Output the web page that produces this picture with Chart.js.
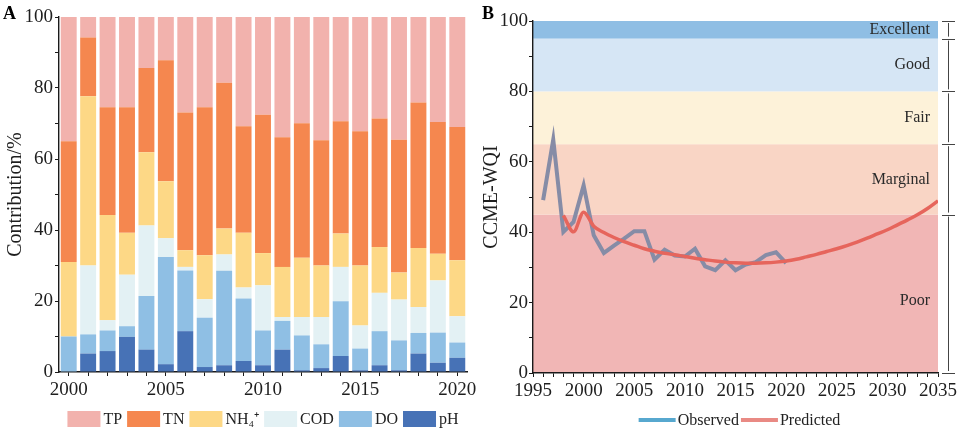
<!DOCTYPE html>
<html>
<head>
<meta charset="utf-8">
<script src="https://cdn.jsdelivr.net/npm/chart.js@4.4.1/dist/chart.umd.min.js"></script>
<style>
  body { margin: 0; background: #fff; }
  #wrap { position: relative; width: 960px; height: 431px; }
  .panel { position: absolute; top: 0; width: 480px; height: 431px; }
</style>
</head>
<body>
<div id="wrap">
  <div class="panel" style="left:0"><canvas id="chartA" width="480" height="431"></canvas></div>
  <div class="panel" style="left:480px"><canvas id="chartB" width="480" height="431"></canvas></div>
</div>
<script>
// Panel A data (contribution %, per year)
const years = ["2000", "2001", "2002", "2003", "2004", "2005", "2006", "2007", "2008", "2009", "2010",
  "2011", "2012", "2013", "2014", "2015", "2016", "2017", "2018", "2019", "2020"];
const phVals  = [0, 5.2, 5.9, 9.9, 6.3, 2.2, 11.5, 1.4, 1.9, 3.1, 1.9, 6.3, 0.5, 1.1, 4.5, 0.5, 1.9, 0.5, 5.2, 2.6, 4.0];
const doVals  = [10, 5.4, 5.8, 3.0, 15.1, 30.2, 17.1, 13.9, 26.6, 17.6, 9.8, 8.1, 9.8, 6.7, 15.4, 6.1, 9.6, 8.4, 5.8, 8.5, 4.3];
const codVals = [0, 19.4, 2.9, 14.5, 19.9, 5.3, 1.0, 5.2, 4.6, 3.1, 12.7, 1.1, 5.2, 7.7, 9.7, 6.5, 10.8, 11.5, 7.3, 14.7, 7.4];
const nh4Vals = [21, 47.7, 29.6, 11.8, 20.6, 16.0, 4.7, 12.4, 7.3, 15.4, 9.1, 14.1, 16.7, 14.5, 9.4, 16.9, 12.9, 7.6, 16.6, 7.5, 15.8];
const tnVals  = [34, 16.5, 30.4, 35.4, 23.7, 34.1, 38.8, 41.7, 41.1, 30.0, 39.0, 36.5, 37.9, 35.3, 31.6, 37.8, 36.2, 37.4, 41.0, 37.1, 37.5];
const tpVals  = [35, 5.8, 25.4, 25.4, 14.4, 12.2, 26.9, 25.4, 18.5, 30.8, 27.5, 33.9, 29.9, 34.7, 29.4, 32.2, 28.6, 34.6, 24.1, 29.6, 31.0];

// Panel B data (CCME-WQI)
const obsYears = [1996, 1997, 1998, 1999, 2000, 2001, 2002, 2003, 2004, 2005, 2006, 2007, 2008,
  2009, 2010, 2011, 2012, 2013, 2014, 2015, 2016, 2017, 2018, 2019, 2020];
const obsValues = [49.1, 66.3, 40.1, 42.9, 53.3, 39.1, 34.1, 36.2, 38.2, 40.3, 40.3, 32.2, 35.0,
  33.4, 33.1, 35.3, 30.3, 29.2, 32.0, 29.2, 30.8, 31.5, 33.5, 34.3, 31.2];
const predYears = [1998, 1999, 2000, 2001, 2002, 2003, 2004, 2005, 2006, 2007, 2008, 2009, 2010,
  2011, 2012, 2013, 2014, 2015, 2016, 2017, 2018, 2019, 2020, 2021, 2022, 2023, 2024, 2025,
  2026, 2027, 2028, 2029, 2030, 2031, 2032, 2033, 2034, 2035];
const predValues = [44.8, 40.1, 45.7, 41.7, 39.9, 38.5, 37.3, 36.3, 35.3, 34.6, 34.0, 33.6, 33.1,
  32.6, 32.2, 31.8, 31.5, 31.3, 31.2, 31.2, 31.3, 31.5, 31.8, 32.3, 33.0, 33.7, 34.5, 35.3,
  36.2, 37.2, 38.3, 39.5, 40.7, 42.1, 43.5, 45.0, 46.8, 48.9];

// quality classes
const bandNames = ["Poor", "Marginal", "Fair", "Good", "Excellent"];
const bandLow  = [0, 45, 65, 80, 95];
const bandHigh = [45, 65, 80, 95, 100];
const bandColors = ["#f1b6b5", "#f9d5c5", "#fdf2d9", "#d6e6f5", "#8fbee4"];

const SERIF = '"Liberation Serif", "Times New Roman", serif';
Chart.defaults.font.family = SERIF;
Chart.defaults.color = "#1e1e1e";
const AXIS = "#1a1a1a";

function panelLetter(letter, x, y) {
  return {
    id: "letter" + letter,
    afterDraw(chart) {
      const ctx = chart.ctx;
      ctx.save();
      ctx.font = "bold 18px " + SERIF;
      ctx.fillStyle = "#000";
      ctx.fillText(letter, x, y);
      ctx.restore();
    }
  };
}

// box legend under panel A (TP first)
const legendA = {
  id: "legendA",
  afterDraw(chart) {
    const ctx = chart.ctx, area = chart.chartArea;
    const items = chart.data.datasets.slice().reverse();
    ctx.save();
    ctx.font = "16px " + SERIF;
    const box = 33, gap = 3, space = 5;
    const widths = items.map(d => box + gap + ctx.measureText(d.label).width);
    const total = widths.reduce((a, b) => a + b, 0) + space * (items.length - 1);
    let x = (area.left + area.right) / 2 - total / 2;
    const y = 419;
    items.forEach((d, i) => {
      ctx.fillStyle = d.backgroundColor;
      ctx.fillRect(x, y - 8, box, 16);
      ctx.fillStyle = "#222";
      ctx.textBaseline = "middle";
      ctx.fillText(d.label, x + box + gap, y + 1);
      x += widths[i] + space;
    });
    ctx.restore();
  }
};

// line legend under panel B
const legendB = {
  id: "legendB",
  afterDraw(chart) {
    const ctx = chart.ctx, area = chart.chartArea;
    const items = chart.data.datasets.slice().sort((a, b) => b.order - a.order);
    ctx.save();
    ctx.font = "16px " + SERIF;
    const len = 37, gap = 2, space = 2;
    const widths = items.map(d => len + gap + ctx.measureText(d.label).width);
    const total = widths.reduce((a, b) => a + b, 0) + space * (items.length - 1);
    let x = (area.left + area.right) / 2 - total / 2 + 4;
    const y = 420;
    items.forEach((d, i) => {
      ctx.strokeStyle = d.legendColor;
      ctx.lineWidth = 4;
      ctx.beginPath();
      ctx.moveTo(x, y);
      ctx.lineTo(x + len, y);
      ctx.stroke();
      ctx.fillStyle = "#222";
      ctx.textBaseline = "middle";
      ctx.fillText(d.label, x + len + gap, y + 1);
      x += widths[i] + space;
    });
    ctx.restore();
  }
};

// coloured quality bands, their names and the brackets on the right
const bandsPlugin = {
  id: "bands",
  beforeDraw(chart) {
    const { ctx, chartArea: a, scales: { y } } = chart;
    ctx.save();
    bandNames.forEach((name, i) => {
      const top = y.getPixelForValue(bandHigh[i]);
      const bot = y.getPixelForValue(bandLow[i]);
      ctx.fillStyle = bandColors[i];
      ctx.fillRect(a.left, top, a.right - a.left, bot - top);
    });
    ctx.restore();
  },
  beforeDatasetsDraw(chart) {
    const { ctx, chartArea: a, scales: { y } } = chart;
    ctx.save();
    ctx.font = "16px " + SERIF;
    ctx.fillStyle = "#2a2a2a";
    ctx.textAlign = "right";
    ctx.textBaseline = "middle";
    bandNames.forEach((name, i) => {
      const mid = (y.getPixelForValue(bandHigh[i]) + y.getPixelForValue(bandLow[i])) / 2;
      ctx.fillText(name, a.right - 8, mid + (i === 0 ? 7 : 0));
    });
    // brackets
    const bx = a.right + 10;
    ctx.strokeStyle = "#444";
    ctx.lineWidth = 1;
    bandNames.forEach((name, i) => {
      const top = y.getPixelForValue(bandHigh[i]);
      const bot = y.getPixelForValue(bandLow[i]);
      ctx.beginPath();
      ctx.moveTo(bx + 0.5, top + 2);
      ctx.lineTo(bx + 0.5, bot - 2);
      ctx.stroke();
    });
    bandLow.concat([100]).forEach(v => {
      const py = Math.round(y.getPixelForValue(v)) + 0.5;
      ctx.beginPath();
      ctx.moveTo(bx - 6, py);
      ctx.lineTo(bx + 7, py);
      ctx.stroke();
    });
    ctx.restore();
  }
};

const tickFont = { size: 19 };
const axisGrid = { drawOnChartArea: false, drawTicks: true, tickLength: 4, color: AXIS, tickColor: AXIS };

// Panel A: stacked bars
new Chart(document.getElementById("chartA"), {
  type: "bar",
  data: {
    labels: years,
    datasets: [
      { label: "pH", data: phVals, backgroundColor: "#4772b6" },
      { label: "DO", data: doVals, backgroundColor: "#8fbfe4" },
      { label: "COD", data: codVals, backgroundColor: "#e3f1f4" },
      { label: "NH\u2084\u207A", data: nh4Vals, backgroundColor: "#fdd886" },
      { label: "TN", data: tnVals, backgroundColor: "#f5874f" },
      { label: "TP", data: tpVals, backgroundColor: "#f2b2ad" }
    ]
  },
  options: {
    responsive: false,
    animation: false,
    barPercentage: 0.82,
    categoryPercentage: 1,
    layout: { padding: { top: 17, right: 13, bottom: 29, left: 0 } },
    plugins: { legend: { display: false }, tooltip: { enabled: false } },
    scales: {
      x: {
        stacked: true,
        offset: true,
        grid: Object.assign({ offset: false }, axisGrid),
        border: { color: AXIS, width: 1.4 },
        ticks: {
          autoSkip: false, maxRotation: 0, padding: 3, font: tickFont,
          callback: (v, i) => (Number(years[i]) % 5 === 0 ? years[i] : "")
        },
        afterFit: s => { s.height = 30; }
      },
      y: {
        stacked: true,
        min: 0, max: 100,
        grid: axisGrid,
        border: { color: AXIS, width: 1.4 },
        ticks: { stepSize: 10, padding: 2, font: tickFont, callback: v => (v % 20 === 0 ? v : "") },
        title: { display: true, text: "Contribution/%", font: { size: 20 }, padding: { top: 4, bottom: 0 } },
        afterFit: s => { s.width = 59; }
      }
    }
  },
  plugins: [legendA, panelLetter("A", 3, 19)]
});

// Panel B: observed vs predicted WQI
new Chart(document.getElementById("chartB"), {
  type: "line",
  data: {
    datasets: [
      {
        label: "Observed", order: 2,
        data: obsYears.map((yr, i) => ({ x: yr, y: obsValues[i] })),
        borderColor: "#868ca6", legendColor: "#57a8cf",
        borderWidth: 4, pointRadius: 0, tension: 0
      },
      {
        label: "Predicted", order: 1,
        data: predYears.map((yr, i) => ({ x: yr, y: predValues[i] })),
        borderColor: "#e6655c", legendColor: "#e98a84",
        borderWidth: 3.5, pointRadius: 0, cubicInterpolationMode: "monotone"
      }
    ]
  },
  options: {
    responsive: false,
    animation: false,
    layout: { padding: { top: 21, right: 21, bottom: 28, left: 0 } },
    plugins: { legend: { display: false }, tooltip: { enabled: false } },
    scales: {
      x: {
        type: "linear",
        min: 1995, max: 2035,
        grid: axisGrid,
        border: { color: AXIS, width: 1.4 },
        ticks: {
          stepSize: 1, maxTicksLimit: 100, autoSkip: false, maxRotation: 0, padding: 3, font: tickFont,
          callback: v => (v % 5 === 0 ? String(v) : "")
        },
        afterFit: s => { s.height = 30; }
      },
      y: {
        min: 0, max: 100,
        grid: axisGrid,
        border: { color: AXIS, width: 1.4 },
        ticks: { stepSize: 10, padding: 1, font: tickFont, callback: v => (v % 20 === 0 ? v : "") },
        title: { display: true, text: "CCME-WQI", font: { size: 20 }, padding: { top: 0, bottom: 0 } },
        afterFit: s => { s.width = 53; }
      }
    }
  },
  plugins: [bandsPlugin, legendB, panelLetter("B", 2, 19)]
});
</script>
</body>
</html>
